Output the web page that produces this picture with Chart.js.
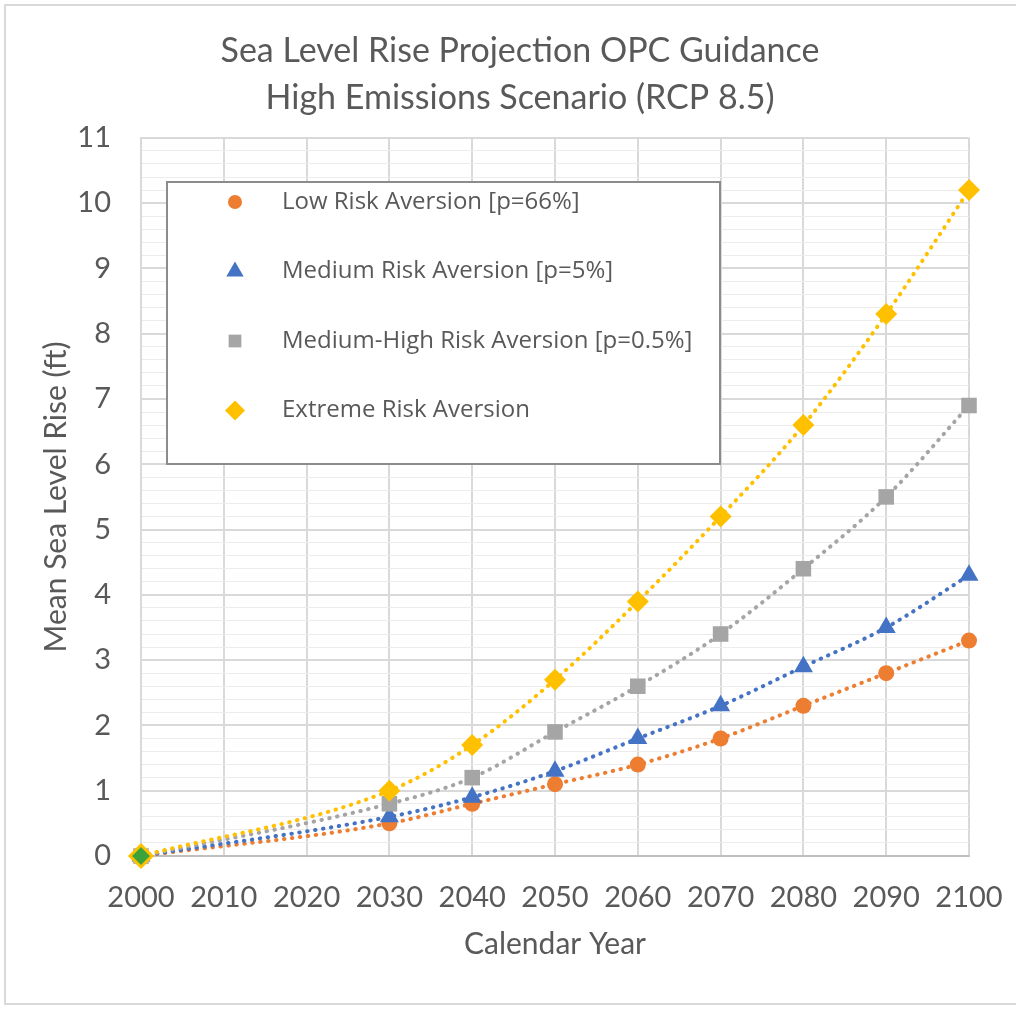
<!DOCTYPE html>
<html>
<head>
<meta charset="utf-8">
<script src="https://cdn.jsdelivr.net/npm/chart.js@4/dist/chart.umd.min.js"></script>
<style>
  html, body { margin: 0; padding: 0; background: #fff; }
  #wrap { width: 1016px; height: 1009px; position: relative; }
</style>
</head>
<body>
<div id="wrap"><canvas id="myChart" width="1016" height="1009"></canvas></div>
<script>
// data
const years = [2000, 2030, 2040, 2050, 2060, 2070, 2080, 2090, 2100]
const lowRisk = [0, 0.5, 0.8, 1.1, 1.4, 1.8, 2.3, 2.8, 3.3]
const mediumRisk = [0, 0.6, 0.9, 1.3, 1.8, 2.3, 2.9, 3.5, 4.3]
const mediumHighRisk = [0, 0.8, 1.2, 1.9, 2.6, 3.4, 4.4, 5.5, 6.9]
const extremeRisk = [0, 1.0, 1.7, 2.7, 3.9, 5.2, 6.6, 8.3, 10.2]
const seriesNames = ['Low Risk Aversion [p=66%]', 'Medium Risk Aversion [p=5%]', 'Medium-High Risk Aversion [p=0.5%]', 'Extreme Risk Aversion']
const titleLines = ['Sea Level Rise Projection OPC Guidance', 'High Emissions Scenario (RCP 8.5)']

const colors = ['#ED7D31', '#4472C4', '#A5A5A5', '#FFC000']
const shapes = ['circle', 'triangle', 'rect', 'rectRot']
const radii = [8, 11, 11, 11]
const allSeries = [lowRisk, mediumRisk, mediumHighRisk, extremeRisk]

const toPoints = (vals) => vals.map((v, i) => ({x: years[i], y: v}))

const datasets = allSeries.map((vals, i) => ({
  label: seriesNames[i],
  data: toPoints(vals),
  borderColor: colors[i],
  backgroundColor: colors[i],
  borderWidth: 4,
  borderDash: [0.5, 7.5],
  borderCapStyle: 'round',
  cubicInterpolationMode: 'monotone',
  clip: false,
  pointStyle: shapes[i],
  pointRadius: radii[i],
  pointBackgroundColor: i === 3 ? vals.map((v, j) => j === 0 ? '#3BA33A' : colors[i]) : colors[i],
  pointBorderColor: colors[i],
  pointBorderWidth: i === 3 ? vals.map((v, j) => j === 0 ? 3 : 0) : 0,
  order: 4 - i
}))

const isWhole = (v) => Math.abs(v - Math.round(v)) < 1e-6

// border round the whole picture
const frame = {
  id: 'frame',
  beforeDraw(chart) {
    const ctx = chart.ctx
    ctx.save()
    ctx.fillStyle = '#fff'
    ctx.fillRect(0, 0, chart.width, chart.height)
    ctx.strokeStyle = '#d9d9d9'
    ctx.lineWidth = 2
    ctx.strokeRect(5, 5, chart.width + 20, chart.height - 10)
    ctx.restore()
  }
}

// legend box sitting inside the plot
const boxLegend = {
  id: 'boxLegend',
  afterDraw(chart) {
    const ctx = chart.ctx
    ctx.save()
    ctx.fillStyle = '#fff'
    ctx.fillRect(167, 182, 553, 282)
    ctx.strokeStyle = '#8c8c8c'
    ctx.lineWidth = 2
    ctx.strokeRect(167, 182, 553, 282)
    const legendRadii = [7, 10, 9, 10]
    chart.data.datasets.forEach((ds, i) => {
      const y = 202 + i * 69.5
      ctx.fillStyle = colors[i]
      ctx.strokeStyle = colors[i]
      Chart.helpers.drawPoint(ctx, {pointStyle: shapes[i], radius: legendRadii[i], borderWidth: 0}, 235, y)
      ctx.fillStyle = '#595959'
      ctx.font = '24px "Open Sans"'
      ctx.textBaseline = 'middle'
      ctx.textAlign = 'left'
      ctx.fillText(ds.label, 282, y)
    })
    ctx.restore()
  }
}

new Chart('myChart', {
  type: 'line',
  data: {datasets: datasets},
  options: {
    responsive: false,
    animation: false,
    layout: {padding: {left: 38, right: 14, top: 0, bottom: 0}},
    plugins: {
      legend: {display: false},
      tooltip: {enabled: false},
      title: {
        display: true,
        text: titleLines,
        color: '#595959',
        font: {family: 'Lato', size: 34, weight: 'normal', lineHeight: 1.38},
        padding: {top: 28, bottom: 16}
      }
    },
    scales: {
      x: {
        type: 'linear',
        min: 2000,
        max: 2100,
        ticks: {
          stepSize: 10,
          color: '#595959',
          font: {family: 'Lato', size: 29},
          padding: 24,
          maxRotation: 0,
          callback: (v) => String(v)
        },
        grid: {color: '#d9d9d9', lineWidth: 2, drawTicks: false},
        border: {color: '#bfbfbf', width: 2},
        title: {
          display: true,
          text: 'Calendar Year',
          color: '#595959',
          font: {family: 'Lato', size: 30},
          padding: {top: 14, bottom: 47}
        },
        afterFit: (scale) => {
          scale.height = 153
          scale.paddingLeft = 0
          scale.paddingRight = 47
        }
      },
      y: {
        min: 0,
        max: 11,
        ticks: {
          stepSize: 0.2,
          autoSkip: false,
          color: '#595959',
          font: {family: 'Lato', size: 29},
          padding: 30,
          callback: (v) => isWhole(v) ? String(Math.round(v)) : ''
        },
        grid: {
          drawTicks: false,
          color: (c) => isWhole(c.tick.value) ? '#d9d9d9' : '#ececec',
          lineWidth: (c) => isWhole(c.tick.value) ? 2 : 1
        },
        border: {color: '#d9d9d9', width: 2},
        title: {
          display: true,
          text: 'Mean Sea Level Rise (ft)',
          color: '#595959',
          font: {family: 'Lato', size: 30},
          padding: {top: 0, bottom: 0}
        },
        afterFit: (scale) => { scale.width = 103 }
      }
    }
  },
  plugins: [frame, boxLegend]
})
</script>
</body>
</html>
